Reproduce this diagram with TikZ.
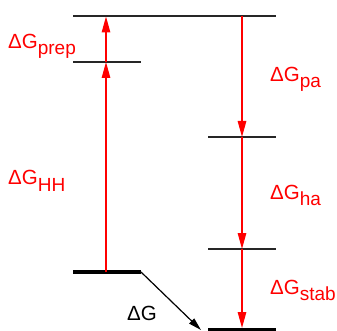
\documentclass[tikz,border=0pt]{standalone}
\usepackage{fontspec}
\setmainfont{Liberation Sans}
\usetikzlibrary{arrows.meta}
\definecolor{arrred}{RGB}{255,0,0}
\newcommand{\dG}[1]{{\fontsize{20.5}{20.5}\selectfont ΔG\raisebox{-6pt}{\fontsize{19}{19}\selectfont #1}}}
\tikzset{
  level/.style={line width=1.4pt, draw=black!85},
  thicklevel/.style={line width=4pt, draw=black},
  rarrow/.style={draw=arrred, line width=1.3pt, -{Triangle[length=16pt,width=8.5pt]}},
  barrow/.style={draw=black, line width=1.2pt, -{Triangle[length=13pt,width=7pt]}},
  lbl/.style={inner sep=0pt, anchor=base west, text=arrred},
}
\begin{document}
\begin{tikzpicture}[x=1pt,y=-1pt]
\useasboundingbox (0,0) rectangle (337,331);
% levels
\coordinate (topL) at (73,16); \coordinate (topR) at (276,16);
\coordinate (prepL) at (73,62); \coordinate (prepR) at (141,62);
\coordinate (hhL) at (73,272); \coordinate (hhR) at (141,272);
\coordinate (paL) at (208,137); \coordinate (paR) at (276,137);
\coordinate (haL) at (208,249); \coordinate (haR) at (276,249);
\coordinate (stL) at (208,330); \coordinate (stR) at (276,330);
\draw[level] (topL) -- (topR);
\draw[level] (prepL) -- (prepR);
\draw[level] (paL) -- (paR);
\draw[level] (haL) -- (haR);
\draw[thicklevel] (hhL) -- (hhR);
\draw[thicklevel] (stL) -- (stR);
% arrow points
\coordinate (a0) at (106,272);
\coordinate (a1) at (106,62);
\coordinate (a2) at (106,16.5);
\coordinate (b0) at (242,16);
\coordinate (b1) at (242,137);
\coordinate (b2) at (242,249);
\coordinate (b3) at (242,328);
\draw[rarrow] (a0) -- (a1);
\draw[rarrow] (a1) -- (a2);
\draw[rarrow] (b0) -- (b1);
\draw[rarrow] (b1) -- (b2);
\draw[rarrow] (b2) -- (b3);
\coordinate (c1) at (201,330);
\draw[barrow] (hhR) -- (c1);
% labels
\node[lbl] (lprep) at (8,48.5) {\dG{prep}};
\node[lbl] (lhh) at (8,185) {\dG{HH}};
\node[lbl] (lpa) at (270,82) {\dG{pa}};
\node[lbl] (lha) at (270,199) {\dG{ha}};
\node[lbl] (lstab) at (270,294.5) {\dG{stab}};
\node[lbl, text=black] (ldg) at (127,320) {\dG{}};
\end{tikzpicture}
\end{document}
